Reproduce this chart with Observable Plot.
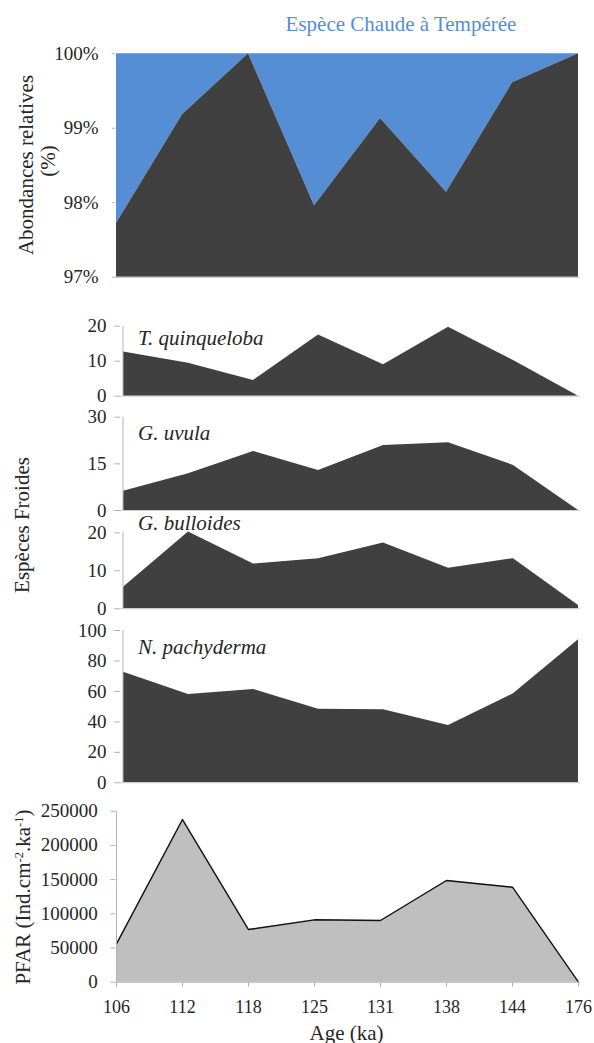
<!DOCTYPE html>
<html>
<head>
<meta charset="utf-8">
<script src="https://cdn.jsdelivr.net/npm/d3@7"></script>
<script src="https://cdn.jsdelivr.net/npm/@observablehq/plot@0.6"></script>
<style>
  body { margin: 0; background: #fff; }
  #chart { position: relative; width: 594px; height: 1043px; font-family: "Liberation Serif", "Times New Roman", serif; color: #262626; }
  .lbl { position: absolute; white-space: nowrap; line-height: 1; font-size: 21px; transform: translate(-50%, -50%); font-family: "Liberation Serif", "Times New Roman", serif; }
  .rot { transform: translate(-50%, -50%) rotate(-90deg); }
  .sp { position: absolute; white-space: nowrap; line-height: 1; font-size: 21px; font-style: italic; transform: translate(0, -50%); font-family: "Liberation Serif", "Times New Roman", serif; }
  sup { font-size: 0.6em; line-height: 0; vertical-align: 0.55em; }
</style>
</head>
<body>
<div id="chart"></div>
<script>
// ---- data ----
const ages = ["106", "112", "118", "125", "131", "138", "144", "176"];
const coldPct = [97.72, 99.18, 100, 97.96, 99.13, 98.14, 99.61, 100];
const tQuinqueloba = [12.6, 9.4, 4.5, 17.5, 9.0, 19.7, 10.2, 0];
const gUvula = [6.2, 11.8, 19.0, 12.9, 20.9, 21.8, 14.5, 0];
const gBulloides = [5.7, 20.2, 11.8, 13.2, 17.3, 10.7, 13.2, 0.9];
const nPachyderma = [72.6, 58.0, 61.3, 48.3, 47.9, 37.6, 58.4, 93.9];
const pfar = [56000, 237800, 77000, 91200, 90200, 148700, 138900, 0];

const pctTicks = [97, 98, 99, 100];
const quinTicks = [0, 10, 20];
const uvulaTicks = [0, 15, 30];
const bullTicks = [0, 10, 20];
const pachTicks = [0, 20, 40, 60, 80, 100];
const pfarTicks = [0, 50000, 100000, 150000, 200000, 250000];

// ---- styles ----
const W = 594;
const font = '"Liberation Serif", "Times New Roman", serif';
const blue = "#558ed5";
const dark = "#404040";
const axisGray = "#b3b3b3";
const chart = document.getElementById("chart");
const rows = vals => ages.map((age, i) => ({age, v: vals[i]}));
const baseStyle = {fontFamily: font, fontSize: "19px", background: "transparent", overflow: "visible", color: "#262626"};

function addPlot(top, svg) {
  svg.style.position = "absolute";
  svg.style.left = "0px";
  svg.style.top = top + "px";
  chart.appendChild(svg);
}
function addLabel(html, x, y, cls, extra) {
  const d = document.createElement("div");
  d.className = cls;
  d.innerHTML = html;
  d.style.left = x + "px";
  d.style.top = y + "px";
  if (extra) Object.assign(d.style, extra);
  chart.appendChild(d);
}

// ---- top panel: relative abundances ----
addPlot(0, Plot.plot({
  width: W, height: 300,
  marginTop: 53.3, marginBottom: 23.3, marginLeft: 115, marginRight: 14.5,
  style: baseStyle,
  x: {type: "point", domain: ages, padding: 0, axis: null},
  y: {domain: [97, 100]},
  marks: [
    Plot.areaY(rows(coldPct), {x: "age", y1: "v", y2: () => 100, fill: blue}),
    Plot.areaY(rows(coldPct), {x: "age", y1: () => 97, y2: "v", fill: dark}),
    Plot.ruleY([97], {stroke: axisGray}),
    Plot.axisY(pctTicks, {tickSize: 3, tickPadding: 14, stroke: axisGray, tickFormat: d => d + "%", label: null, fontSize: 19, fontFamily: font})
  ]
}));

// ---- cold species panels ----
function coldPanel(top, height, mt, mb, vals, ticks) {
  const maxY = ticks[ticks.length - 1];
  addPlot(top, Plot.plot({
    width: W, height,
    marginTop: mt, marginBottom: mb, marginLeft: 120, marginRight: 14,
    style: baseStyle,
    x: {type: "point", domain: ages, padding: 0, axis: null},
    y: {domain: [0, maxY]},
    marks: [
      Plot.areaY(rows(vals), {x: "age", y1: () => 0, y2: "v", fill: dark}),
      Plot.ruleY([0], {stroke: "#cfcfcf"}),
      Plot.ruleX([ages[0]], {y1: 0, y2: maxY, stroke: axisGray, dx: -0.5}),
      Plot.axisY(ticks, {tickSize: 6, tickPadding: 8, stroke: axisGray, label: null, fontSize: 19, fontFamily: font})
    ]
  }));
}
coldPanel(300, 105, 25.7, 9.3, tQuinqueloba, quinTicks);
coldPanel(405, 110, 11.7, 5, gUvula, uvulaTicks);
coldPanel(515, 100, 17.3, 6.7, gBulloides, bullTicks);
coldPanel(615, 175, 15, 7.7, nPachyderma, pachTicks);

// ---- PFAR panel ----
addPlot(790, Plot.plot({
  width: W, height: 253,
  marginTop: 20.7, marginBottom: 61.3, marginLeft: 115.3, marginRight: 15.3,
  style: baseStyle,
  x: {type: "point", domain: ages, padding: 0},
  y: {domain: [0, 250000]},
  marks: [
    Plot.areaY(rows(pfar), {x: "age", y1: () => 0, y2: "v", fill: "#bfbfbf"}),
    Plot.lineY(rows(pfar), {x: "age", y: "v", stroke: "#111", strokeWidth: 1.4}),
    Plot.ruleY([0], {stroke: axisGray}),
    Plot.ruleX([ages[0]], {y1: 0, y2: 250000, stroke: axisGray}),
    Plot.axisY(pfarTicks, {tickSize: 5, tickPadding: 13, stroke: axisGray, tickFormat: d3.format("d"), label: null, fontSize: 19, fontFamily: font}),
    Plot.axisX({tickSize: 5, tickPadding: 13, stroke: axisGray, label: null, fontSize: 18, fontFamily: font})
  ]
}));

// ---- text labels ----
addLabel("Espèce Chaude à Tempérée", 401, 23.6, "lbl", {color: blue});
addLabel("Abondances relatives", 25.5, 164.5, "lbl rot");
addLabel("(%)", 48, 161, "lbl rot");
addLabel("Espèces Froides", 22, 525, "lbl rot");
addLabel("PFAR (Ind.cm<sup>-2</sup>.ka<sup>-1</sup>)", 23, 897, "lbl rot");
addLabel("Age (ka)", 346.5, 1033, "lbl");
addLabel("T. quinqueloba", 138, 337.5, "sp");
addLabel("G. uvula", 138, 432.5, "sp");
addLabel("G. bulloides", 138, 523, "sp");
addLabel("N. pachyderma", 138, 647.3, "sp");
</script>
</body>
</html>
